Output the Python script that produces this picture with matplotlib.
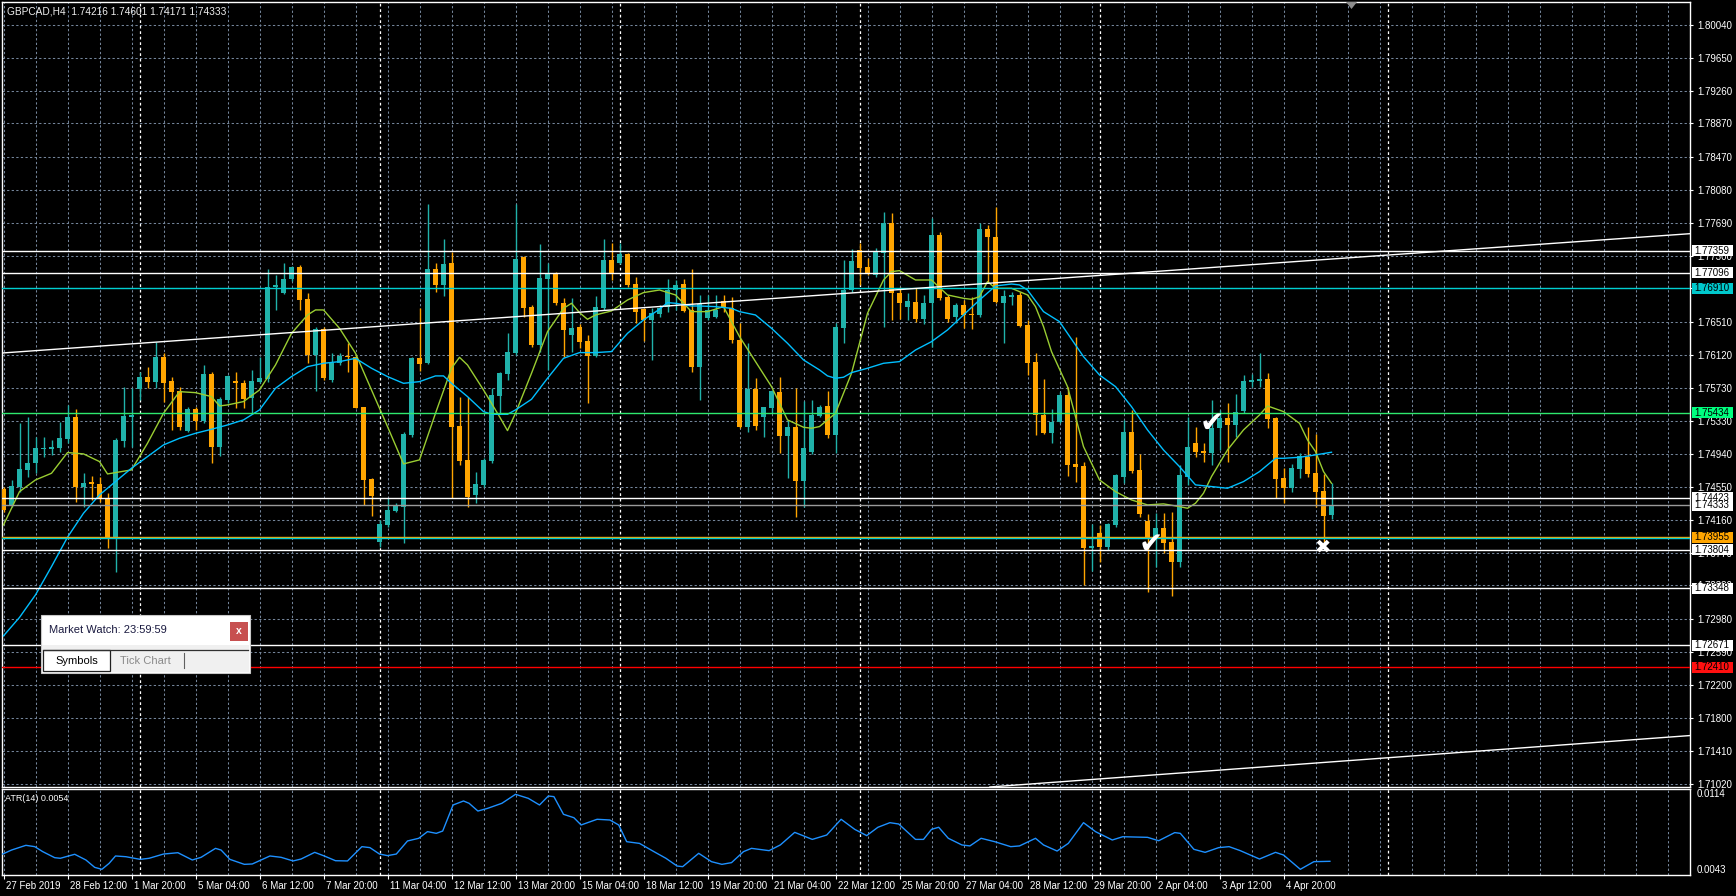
import matplotlib
matplotlib.use("Agg")
import matplotlib.pyplot as plt
import matplotlib.transforms as mtransforms
from matplotlib.patches import Rectangle, Polygon
import numpy as np

plt.rcParams['font.family'] = ['Liberation Sans', 'DejaVu Sans']

# ------------------------------------------------------------------ data
title_text = "GBPCAD,H4  1.74216 1.74601 1.74171 1.74333"
atr_text = "ATR(14) 0.0054"

opens = [1.74523, 1.74337, 1.74555, 1.74753, 1.74832, 1.74998, 1.75006, 1.75018, 1.75125, 1.75378,
         1.74547, 1.74610, 1.74586, 1.74416, 1.73949, 1.75101, 1.75386, 1.75715, 1.75854, 1.75802,
         1.76091, 1.75806, 1.75687, 1.75220, 1.75474, 1.75339, 1.75893, 1.75022, 1.75584, 1.75810,
         1.75782, 1.75604, 1.75802, 1.75830, 1.76923, 1.76860, 1.77018, 1.77160, 1.76780, 1.76119,
         1.76424, 1.75822, 1.76020, 1.76111, 1.76099, 1.75497, 1.74646, 1.73901, 1.74099, 1.74266,
         1.74317, 1.75169, 1.76079, 1.76028, 1.77137, 1.76951, 1.77208, 1.75276, 1.74872, 1.74456,
         1.74575, 1.74864, 1.75632, 1.75893, 1.76147, 1.77287, 1.76693, 1.76238, 1.77026, 1.77081,
         1.76733, 1.76357, 1.76456, 1.76281, 1.76111, 1.76681, 1.77248, 1.77216, 1.77319, 1.76962,
         1.76662, 1.76535, 1.76606, 1.76693, 1.76891, 1.76962, 1.76654, 1.75980, 1.76555, 1.76566,
         1.76761, 1.76673, 1.76297, 1.75268, 1.75715, 1.75378, 1.75493, 1.75683, 1.75157, 1.75268,
         1.74626, 1.74971, 1.75394, 1.75513, 1.75169, 1.76444, 1.76891, 1.77366, 1.77168, 1.77069,
         1.77335, 1.77683, 1.76852, 1.76693, 1.76753, 1.76543, 1.76733, 1.77545, 1.76804, 1.76574,
         1.76713, 1.76606, 1.76594, 1.77612, 1.77517, 1.76733, 1.76812, 1.76832, 1.76475, 1.76040,
         1.75406, 1.75196, 1.75327, 1.75644, 1.74824, 1.74800, 1.73830, 1.74000, 1.73842, 1.74103,
         1.74674, 1.75208, 1.74753, 1.74147, 1.73941, 1.74060, 1.73901, 1.73664, 1.74674, 1.75070,
         1.74979, 1.74959, 1.75248, 1.75367, 1.75287, 1.75458, 1.75802, 1.75814, 1.75834, 1.75367,
         1.74662, 1.74535, 1.74761, 1.74911, 1.74721, 1.74507, 1.74216]

highs = [1.74555, 1.74634, 1.75307, 1.75386, 1.75149, 1.75149, 1.75109, 1.75327, 1.75525, 1.75474,
         1.74713, 1.74682, 1.74674, 1.74476, 1.75129, 1.75735, 1.75723, 1.75921, 1.75980, 1.76277,
         1.76139, 1.75862, 1.75743, 1.75505, 1.75505, 1.76000, 1.75921, 1.75616, 1.75881, 1.75921,
         1.75822, 1.75941, 1.76099, 1.77137, 1.77069, 1.77208, 1.77176, 1.77188, 1.76852, 1.76456,
         1.76456, 1.76147, 1.76139, 1.76258, 1.76119, 1.75505, 1.74654, 1.74159, 1.74416, 1.74357,
         1.75208, 1.76099, 1.76673, 1.77913, 1.77208, 1.77493, 1.77347, 1.75624, 1.75616, 1.74733,
         1.74891, 1.75723, 1.75921, 1.76376, 1.77913, 1.77295, 1.76713, 1.77438, 1.77208, 1.77109,
         1.76792, 1.76792, 1.76487, 1.76357, 1.76820, 1.77493, 1.77446, 1.77454, 1.77327, 1.77050,
         1.76673, 1.76673, 1.76713, 1.77018, 1.77010, 1.77018, 1.77137, 1.76832, 1.76832, 1.76832,
         1.76832, 1.76812, 1.76503, 1.76258, 1.75842, 1.75505, 1.75703, 1.75854, 1.75347, 1.75723,
         1.75576, 1.75584, 1.75525, 1.75695, 1.76495, 1.77248, 1.77374, 1.77454, 1.77267, 1.77386,
         1.77818, 1.77802, 1.76931, 1.76852, 1.76911, 1.76832, 1.77743, 1.77584, 1.76832, 1.76733,
         1.76772, 1.76812, 1.77683, 1.77663, 1.77881, 1.76891, 1.76871, 1.76871, 1.76535, 1.76139,
         1.75830, 1.75474, 1.75683, 1.75743, 1.76337, 1.74852, 1.74111, 1.74099, 1.74119, 1.74705,
         1.75347, 1.75466, 1.74943, 1.74230, 1.74238, 1.74246, 1.74258, 1.74812, 1.75386, 1.75260,
         1.75070, 1.75584, 1.75466, 1.75545, 1.75656, 1.75881, 1.75893, 1.76147, 1.75909, 1.75386,
         1.74773, 1.74824, 1.74951, 1.75260, 1.75180, 1.74705, 1.74601]

lows = [1.74258, 1.74317, 1.74495, 1.74674, 1.74713, 1.74911, 1.74931, 1.74971, 1.75070, 1.74377,
        1.74317, 1.74396, 1.74377, 1.73822, 1.73545, 1.75030, 1.75030, 1.75584, 1.75723, 1.75723,
        1.75565, 1.75228, 1.75228, 1.75208, 1.75228, 1.75307, 1.74832, 1.74919, 1.75545, 1.75485,
        1.75485, 1.75426, 1.75782, 1.75802, 1.76654, 1.76844, 1.77002, 1.76654, 1.76020, 1.75695,
        1.75822, 1.75802, 1.76000, 1.75921, 1.75485, 1.74337, 1.74206, 1.73842, 1.74080, 1.74258,
        1.73882, 1.75149, 1.75933, 1.76012, 1.76871, 1.76820, 1.74416, 1.74812, 1.74317, 1.74365,
        1.74555, 1.74832, 1.75426, 1.75822, 1.76119, 1.76574, 1.76218, 1.76159, 1.75941, 1.76713,
        1.76099, 1.76159, 1.76198, 1.75553, 1.76099, 1.76654, 1.77010, 1.77200, 1.76931, 1.76495,
        1.76289, 1.76060, 1.76574, 1.76634, 1.76654, 1.76634, 1.75921, 1.75584, 1.76535, 1.76555,
        1.76634, 1.76258, 1.75248, 1.75208, 1.75228, 1.75141, 1.75426, 1.74951, 1.74654, 1.74190,
        1.74309, 1.74943, 1.75386, 1.75129, 1.74951, 1.76258, 1.76871, 1.76951, 1.77069, 1.77050,
        1.76456, 1.76535, 1.76543, 1.76535, 1.76515, 1.76487, 1.76218, 1.76772, 1.76515, 1.76495,
        1.76436, 1.76424, 1.76574, 1.76970, 1.76733, 1.76266, 1.76713, 1.76456, 1.75881, 1.75169,
        1.75180, 1.75070, 1.75307, 1.74682, 1.74614, 1.73387, 1.73557, 1.73664, 1.73802, 1.74080,
        1.74594, 1.74721, 1.74198, 1.73307, 1.73604, 1.73763, 1.73256, 1.73596, 1.74575, 1.74911,
        1.74852, 1.74812, 1.74990, 1.74852, 1.75149, 1.75426, 1.75743, 1.75743, 1.75248, 1.74416,
        1.74365, 1.74495, 1.74654, 1.74674, 1.74317, 1.73901, 1.74171]

closes = [1.74278, 1.74563, 1.74761, 1.74832, 1.75010, 1.75018, 1.75026, 1.75129, 1.75378, 1.74547,
          1.74594, 1.74586, 1.74416, 1.73949, 1.75109, 1.75394, 1.75402, 1.75854, 1.75798, 1.76091,
          1.75790, 1.75683, 1.75268, 1.75474, 1.75339, 1.75893, 1.75022, 1.75592, 1.75870, 1.75782,
          1.75592, 1.75810, 1.75842, 1.76923, 1.76951, 1.77018, 1.77160, 1.76772, 1.76119, 1.76424,
          1.75842, 1.76028, 1.76107, 1.76091, 1.75493, 1.74634, 1.74444, 1.74111, 1.74278, 1.74325,
          1.75180, 1.76079, 1.76012, 1.77137, 1.76951, 1.77200, 1.75268, 1.74864, 1.74428, 1.74586,
          1.74872, 1.75644, 1.75901, 1.76151, 1.77259, 1.76681, 1.76238, 1.77038, 1.77081, 1.76733,
          1.76416, 1.76436, 1.76277, 1.76111, 1.76693, 1.77248, 1.77089, 1.77319, 1.76951, 1.76634,
          1.76535, 1.76614, 1.76673, 1.76891, 1.76951, 1.76646, 1.75980, 1.76725, 1.76654, 1.76654,
          1.76693, 1.76297, 1.75268, 1.75715, 1.75276, 1.75497, 1.75695, 1.75157, 1.75268, 1.74626,
          1.75018, 1.75406, 1.75505, 1.75169, 1.76456, 1.76891, 1.77240, 1.77149, 1.77077, 1.77355,
          1.77683, 1.76852, 1.76733, 1.76764, 1.76543, 1.76741, 1.77545, 1.76792, 1.76543, 1.76713,
          1.76594, 1.76590, 1.77612, 1.77517, 1.76753, 1.76820, 1.76832, 1.76464, 1.76028, 1.75406,
          1.75196, 1.75327, 1.75644, 1.74812, 1.74792, 1.73830, 1.73850, 1.73842, 1.74111, 1.74693,
          1.75208, 1.74741, 1.74230, 1.73941, 1.74060, 1.73890, 1.73664, 1.74693, 1.75030, 1.74971,
          1.74959, 1.75248, 1.75367, 1.75287, 1.75446, 1.75810, 1.75822, 1.75834, 1.75359, 1.74646,
          1.74535, 1.74781, 1.74919, 1.74705, 1.74495, 1.74206, 1.74333]

ma_fast_bar = [0, 2, 4, 6, 8, 10, 12, 13, 14, 16, 18, 20, 22, 24, 26, 27, 28, 30, 32, 34, 36, 38, 39, 40,
               42, 44, 46, 48, 50, 52, 54, 56, 57, 58, 60, 62, 63, 64, 66, 68, 70, 71, 72, 73, 74, 76,
               78, 80, 82, 84, 86, 88, 90, 92, 94, 96, 98, 100, 101, 102, 104, 106, 108, 110, 111, 112,
               114, 116, 118, 120, 121, 122, 123, 124, 126, 128, 129, 130, 131, 133, 135, 136, 137, 139,
               141, 143, 145, 147, 148, 149, 150, 151, 153, 155, 157, 158, 160, 162, 163, 164, 165, 166]
ma_fast_val = [1.74099, 1.74495, 1.74634, 1.74713, 1.74959, 1.74943, 1.74852, 1.74705, 1.74721, 1.74753,
               1.75070, 1.75426, 1.75683, 1.75671, 1.75624, 1.75513, 1.75525, 1.75565, 1.75703, 1.76000,
               1.76376, 1.76594, 1.76654, 1.76654, 1.76436, 1.76139, 1.75703, 1.75268, 1.74824, 1.74872,
               1.75426, 1.75961, 1.76091, 1.76000, 1.75703, 1.75386, 1.75220, 1.75426, 1.75901, 1.76396,
               1.76673, 1.76733, 1.76622, 1.76543, 1.76594, 1.76642, 1.76772, 1.76860, 1.76891, 1.76832,
               1.76634, 1.76634, 1.76693, 1.76337, 1.76040, 1.75743, 1.75347, 1.75260, 1.75248, 1.75268,
               1.75426, 1.75901, 1.76614, 1.77010, 1.77109, 1.77121, 1.77010, 1.77010, 1.76832, 1.76792,
               1.76780, 1.76812, 1.76990, 1.76911, 1.76911, 1.76832, 1.76693, 1.76456, 1.76159, 1.75743,
               1.75030, 1.74832, 1.74634, 1.74495, 1.74396, 1.74337, 1.74349, 1.74317, 1.74297, 1.74357,
               1.74476, 1.74674, 1.74990, 1.75228, 1.75406, 1.75513, 1.75446, 1.75307, 1.75109, 1.74971,
               1.74733, 1.74594]

ma_slow_bar = [0, 2, 4, 6, 8, 10, 12, 14, 16, 18, 20, 22, 24, 26, 28, 30, 32, 34, 36, 38, 40, 42, 44, 46,
               48, 50, 52, 54, 55, 56, 58, 60, 61, 63, 64, 66, 68, 70, 72, 74, 76, 78, 80, 82, 83, 84, 86,
               87, 89, 91, 92, 94, 96, 98, 100, 102, 103, 104, 105, 106, 108, 110, 112, 114, 116, 118,
               120, 122, 124, 126, 127, 128, 130, 132, 135, 137, 139, 141, 143, 145, 147, 149, 151, 153,
               155, 157, 159, 160, 162, 164, 166]
ma_slow_val = [1.72781, 1.73000, 1.73268, 1.73604, 1.73953, 1.74238, 1.74456, 1.74614, 1.74773, 1.74911,
               1.75050, 1.75129, 1.75188, 1.75236, 1.75287, 1.75347, 1.75466, 1.75723, 1.75862, 1.75980,
               1.76020, 1.76040, 1.76079, 1.75961, 1.75862, 1.75782, 1.75802, 1.75870, 1.75870, 1.75782,
               1.75624, 1.75446, 1.75414, 1.75414, 1.75466, 1.75592, 1.75842, 1.76079, 1.76147, 1.76147,
               1.76159, 1.76376, 1.76535, 1.76662, 1.76741, 1.76733, 1.76701, 1.76701, 1.76693, 1.76673,
               1.76634, 1.76594, 1.76436, 1.76258, 1.76060, 1.75941, 1.75870, 1.75842, 1.75854, 1.75909,
               1.75961, 1.76020, 1.76040, 1.76178, 1.76277, 1.76416, 1.76594, 1.76772, 1.76939, 1.76962,
               1.76951, 1.76891, 1.76634, 1.76515, 1.76099, 1.75881, 1.75743, 1.75505, 1.75228, 1.74990,
               1.74792, 1.74575, 1.74555, 1.74535, 1.74614, 1.74733, 1.74891, 1.74891, 1.74903, 1.74931,
               1.74963]

atr_bar = [-0.1, 1.0, 2.8, 3.9, 4.9, 6.4, 7.1, 8.9, 10.3, 11.4, 12.3, 13.2, 14.0, 15.3, 17.1, 18.2, 20.0,
           21.8, 23.6, 24.7, 26.5, 27.2, 28.3, 30.1, 31.1, 33.3, 34.7, 36.2, 37.2, 38.9, 40.1, 41.5,
           43.0, 44.8, 45.8, 47.0, 48.0, 49.1, 50.5, 51.9, 53.0, 54.1, 54.9, 56.2, 57.5, 58.2, 59.3,
           60.5, 62.3, 64.0, 65.6, 67.0, 68.1, 68.8, 70.0, 71.3, 72.2, 74.2, 75.8, 76.9, 77.9, 79.5,
           81.3, 82.8, 84.2, 84.9, 86.9, 88.5, 89.8, 91.0, 92.5, 93.5, 95.7, 97.1, 98.9, 101.1, 102.9,
           104.7, 106.4, 107.9, 109.3, 110.8, 111.9, 114.0, 115.0, 116.0, 116.9, 118.1, 119.8, 120.8,
           122.2, 123.9, 125.9, 127.0, 129.0, 130.0, 131.7, 133.1, 135.0, 136.5, 138.6, 139.9, 143.0,
           144.4, 146.4, 147.1, 148.8, 150.2, 151.9, 153.2, 154.6, 157.0, 159.0, 160.0, 162.1, 163.8,
           165.8]
atr_val = [0.00603, 0.00636, 0.00675, 0.00664, 0.00623, 0.00573, 0.00568, 0.00601, 0.00554, 0.00493,
           0.00477, 0.00526, 0.00587, 0.00581, 0.00559, 0.00568, 0.00603, 0.00614, 0.00554, 0.00576,
           0.00650, 0.00636, 0.00559, 0.00518, 0.00521, 0.00587, 0.00576, 0.00546, 0.00562, 0.00617,
           0.00587, 0.00548, 0.00546, 0.00664, 0.00656, 0.00603, 0.00590, 0.00603, 0.00711, 0.00733,
           0.00788, 0.00774, 0.00793, 0.01008, 0.01041, 0.01022, 0.00958, 0.00980, 0.01022, 0.01096,
           0.01063, 0.01008, 0.01082, 0.01077, 0.00931, 0.00903, 0.00843, 0.00890, 0.00884, 0.00843,
           0.00705, 0.00691, 0.00623, 0.00568, 0.00504, 0.00499, 0.00609, 0.00540, 0.00518, 0.00532,
           0.00623, 0.00650, 0.00631, 0.00678, 0.00782, 0.00724, 0.00760, 0.00890, 0.00807, 0.00755,
           0.00824, 0.00862, 0.00851, 0.00724, 0.00724, 0.00807, 0.00824, 0.00733, 0.00678, 0.00670,
           0.00733, 0.00705, 0.00664, 0.00670, 0.00733, 0.00678, 0.00628, 0.00691, 0.00862, 0.00788,
           0.00719, 0.00746, 0.00741, 0.00713, 0.00780, 0.00774, 0.00642, 0.00617, 0.00656, 0.00664,
           0.00631, 0.00562, 0.00617, 0.00595, 0.00477, 0.00540, 0.00543]
atr_scale_labels = [0.0114, 0.0043]

x_tick_bars = [0, 8, 16, 24, 32, 40, 48, 56, 64, 72, 80, 88, 96, 104, 112, 120, 128, 136, 144, 152, 160]
x_tick_labels = ["27 Feb 2019", "28 Feb 12:00", "1 Mar 20:00", "5 Mar 04:00", "6 Mar 12:00",
                 "7 Mar 20:00", "11 Mar 04:00", "12 Mar 12:00", "13 Mar 20:00", "15 Mar 04:00",
                 "18 Mar 12:00", "19 Mar 20:00", "21 Mar 04:00", "22 Mar 12:00", "25 Mar 20:00",
                 "27 Mar 04:00", "28 Mar 12:00", "29 Mar 20:00", "2 Apr 04:00", "3 Apr 12:00",
                 "4 Apr 20:00"]
week_separators = [17, 47, 77, 107, 137, 173]

price_ticks = [1.80040, 1.79650, 1.79260, 1.78870, 1.78470, 1.78080, 1.77690, 1.77300, 1.76910,
               1.76510, 1.76120, 1.75730, 1.75330, 1.74940, 1.74550, 1.74160, 1.73770, 1.73380,
               1.72980, 1.72590, 1.72200, 1.71800, 1.71410, 1.71020]

h_levels = [1.77359, 1.77096, 1.76910, 1.75434, 1.74423, 1.74333, 1.73955, 1.73940, 1.73804,
            1.73348, 1.72671, 1.72410]
h_colors = ['#FFFFFF', '#FFFFFF', '#00CED1', '#2EE86E', '#FFFFFF', '#9A9A9A', '#FFA500', '#00CED1',
            '#FFFFFF', '#FFFFFF', '#FFFFFF', '#FF0000']
box_levels = [1.77359, 1.77096, 1.76910, 1.75434, 1.74333, 1.74423, 1.73955, 1.73804, 1.73348,
              1.72671, 1.72410]
box_colors = ['#FFFFFF', '#FFFFFF', '#00C8CC', '#00FF7F', '#FFFFFF', '#FFFFFF', '#FFA500', '#FFFFFF',
              '#FFFFFF', '#FFFFFF', '#FF1010']

trend_up_bar = [-0.19, 210.8]
trend_up_price = [1.76142, 1.77560]
trend_lo_bar = [123.3, 210.8]
trend_lo_price = [1.70985, 1.71596]

check_marks_bar = [151.1, 143.4]
check_marks_price = [1.75299, 1.73860]
cross_mark_bar = [164.9]
cross_mark_price = [1.73837]

# ------------------------------------------------------------------ layout
W, H = 1736, 896
fig = plt.figure(figsize=(W / 100, H / 100), dpi=100, facecolor='black')


def fx(px):
    return px / W


def fy(py):
    return 1 - py / H


L, R = 2, 1690
MAIN_T, MAIN_B = 2, 787
ATR_T, ATR_B = 789, 875
PX_PER_UNIT = 8415.0
REF_PRICE, REF_Y = 1.80040, 25.0

ax = fig.add_axes([fx(L), fy(MAIN_B), (R - L) / W, (MAIN_B - MAIN_T) / H])
ax2 = fig.add_axes([fx(L), fy(ATR_B), (R - L) / W, (ATR_B - ATR_T) / H])

xlim = ((L - 3.5) / 8.0, (R - 3.5) / 8.0)
for a in (ax, ax2):
    a.set_facecolor('black')
    a.set_xlim(*xlim)
    for s in a.spines.values():
        s.set_color('white')
        s.set_linewidth(1.0)

ax.set_ylim(REF_PRICE - (MAIN_B - REF_Y) / PX_PER_UNIT, REF_PRICE + (REF_Y - MAIN_T) / PX_PER_UNIT)
ax2.set_ylim(0.0043, 0.0114)

grid_col = '#74859A'
dash = (0, (2.2, 2.2))
for b in np.arange(0, 212, 4):
    ax.axvline(b, color=grid_col, lw=0.75, ls=dash, zorder=0.5)
    ax2.axvline(b, color=grid_col, lw=0.75, ls=dash, zorder=0.5)
for p in price_ticks:
    ax.axhline(p, color=grid_col, lw=0.75, ls=dash, zorder=0.5)
for b in week_separators:
    ax.axvline(b, color='white', lw=0.9, ls=dash, zorder=0.6)
    ax2.axvline(b, color='white', lw=0.9, ls=dash, zorder=0.6)

# candles
bull_col, bear_col = '#20B2AA', '#FFA500'
o = np.array(opens); c = np.array(closes); hh = np.array(highs); ll = np.array(lows)
bars = np.arange(len(o))
cols = np.where(c >= o, bull_col, bear_col)
ax.vlines(bars, ll, hh, colors=cols, lw=1.0, zorder=3)
body_lo = np.minimum(o, c)
body_h = np.maximum(np.abs(c - o), 1.3 / PX_PER_UNIT)
ax.bar(bars, body_h, bottom=body_lo, width=0.62, color=cols, lw=0, zorder=4)

# moving averages
ax.plot(ma_fast_bar, ma_fast_val, color='#9ACD32', lw=1.0, zorder=5)
ax.plot(ma_slow_bar, ma_slow_val, color='#00BFFF', lw=1.0, zorder=5)

# horizontal levels + trend lines
for lev, col in zip(h_levels, h_colors):
    ax.axhline(lev, color=col, lw=1.0, zorder=6)
ax.plot(trend_up_bar, trend_up_price, color='white', lw=1.0, zorder=6)
ax.plot(trend_lo_bar, trend_lo_price, color='white', lw=1.0, zorder=6)

# marks
for b, p in zip(check_marks_bar, check_marks_price):
    ax.text(b, p, "\u2714", family=['DejaVu Sans'], fontsize=21, color='white',
            ha='center', va='center', zorder=7)
for b, p in zip(cross_mark_bar, cross_mark_price):
    ax.text(b, p, "\u2716", family=['DejaVu Sans'], fontsize=14, color='white',
            ha='center', va='center', zorder=7)

# ATR
ax2.plot(atr_bar, atr_val, color='#1E90FF', lw=1.0, zorder=3)

# axes ticks
ax.yaxis.tick_right()
ax.set_yticks(price_ticks)
ax.set_yticklabels([f"{p:.5f}" for p in price_ticks])
ax.tick_params(axis='y', colors='white', labelcolor='white', length=2.5, width=0.8,
               pad=2.5, labelsize=7, direction='out')
ax.tick_params(axis='x', bottom=False, labelbottom=False)

ax2.yaxis.tick_right()
ax2.set_yticks(atr_scale_labels)
ax2.set_yticklabels([f"{v:.4f}" for v in atr_scale_labels])
ax2.tick_params(axis='y', colors='white', labelcolor='white', length=0, pad=4.5, labelsize=7)
tl = ax2.get_yticklabels()
tl[0].set_va('top')
tl[1].set_va('bottom')

ax2.set_xticks(x_tick_bars)
ax2.set_xticklabels(x_tick_labels)
ax2.tick_params(axis='x', colors='white', labelcolor='white', length=3, width=0.8,
                pad=1.5, labelsize=7, direction='out')
offset = mtransforms.ScaledTranslation(2 / 100, 0, fig.dpi_scale_trans)
for lab in ax2.get_xticklabels():
    lab.set_ha('left')
    lab.set_transform(lab.get_transform() + offset)

# right-hand price boxes
trans = mtransforms.blended_transform_factory(fig.transFigure, ax.transData)
half = 5.5 / PX_PER_UNIT
for lev, fc in zip(box_levels, box_colors):
    ax.add_patch(Rectangle((fx(1692), lev - half), fx(1733) - fx(1692), 2 * half, transform=trans,
                           facecolor=fc, edgecolor='none', clip_on=False, zorder=8))
    ax.text(fx(1694), lev, f"{lev:.5f}", transform=trans, fontsize=7, color='black',
            ha='left', va='center', clip_on=False, zorder=9)

# texts
fig.text(fx(7), fy(11), title_text, fontsize=7.3, color='#EEEEEE', va='center', ha='left')
fig.text(fx(5), fy(798), atr_text, fontsize=6.5, color='white', va='center', ha='left')

# overlay: market watch box & shift marker
ov = fig.add_axes([0, 0, 1, 1], zorder=10)
ov.set_xlim(0, W)
ov.set_ylim(H, 0)
ov.axis('off')
ov.patch.set_alpha(0)
ov.add_patch(Rectangle((41, 615), 209, 58, facecolor='white', edgecolor='#C8C8C8', lw=0.8))
ov.add_patch(Rectangle((42, 645), 207, 27, facecolor='#F0F0F0', edgecolor='none'))
ov.plot([43, 248], [650, 650], color='#303030', lw=0.9)
ov.add_patch(Rectangle((43, 650), 67, 21, facecolor='white', edgecolor='#202020', lw=0.9))
ov.text(49, 630, "Market Watch: 23:59:59", fontsize=8, color='#1A1A40', va='center', ha='left')
ov.add_patch(Rectangle((230, 622), 18, 19, facecolor='#C75050', edgecolor='none'))
ov.text(239, 631, "x", fontsize=7.5, color='white', va='center', ha='center', fontweight='bold')
ov.text(55, 661, "Symbols", fontsize=8, color='black', va='center', ha='left')
ov.text(120, 661, "Tick Chart", fontsize=8, color='#8A8A8A', va='center', ha='left')
ov.plot([184, 184], [653, 668], color='#606060', lw=0.8)
ov.add_patch(Polygon([(1346, 2), (1357, 2), (1351.5, 9)], closed=True, facecolor='#8C8C8C',
                     edgecolor='none'))

fig.savefig("out.png", dpi=100, facecolor='black')
